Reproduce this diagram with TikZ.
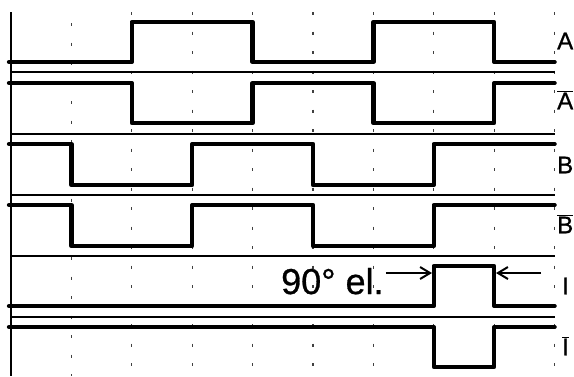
\documentclass[tikz,border=0pt]{standalone}
\usepackage{fontspec}
\setmainfont{Liberation Sans}
\newfontfamily\heavyfont[FakeBold=0.8]{Liberation Sans}
\usetikzlibrary{arrows.meta}
\begin{document}
\begin{tikzpicture}[x=1pt,y=-1pt,
  sig/.style={line width=4.3pt,line cap=round,line join=round},
  sepline/.style={line width=1.6pt},
  gridline/.style={line width=1.2pt,black!75,dash pattern=on 3pt off 16.5pt},
  lbl/.style={font=\heavyfont\fontsize{24}{24}\selectfont,inner sep=0pt,anchor=west},
  dimarrow/.style={line width=2pt,-{Straight Barb[length=10pt,width=12pt,line width=2pt]}}]
\useasboundingbox (0,0) rectangle (574,376);
% grid
\draw[gridline] (71.4,23) -- (71.4,376);
\foreach \x in {131.8,192.2,252.6,313.0,373.4,433.8,494.2,554.6}
  \draw[gridline] (\x,12) -- (\x,376);
% axis
\draw[line width=2pt] (11,12) -- (11,376);
% separators
\foreach \y in {72,134,195,256,317}
  \draw[sepline] (11,\y) -- (554.6,\y);
% signals
\draw[sig] (9,62) -| (131.8,22) -| (252.6,62) -| (373.4,22) -| (494.2,62) -- (554.6,62);
\draw[sig] (9,83) -| (131.8,123) -| (252.6,83) -| (373.4,123) -| (494.2,83) -- (554.6,83);
\draw[sig] (9,144) -| (71.4,185) -| (192.2,144) -| (313,185) -| (433.8,144) -- (554.6,144);
\draw[sig] (9,205) -| (71.4,246) -| (192.2,205) -| (313,246) -| (433.8,205) -- (554.6,205);
\draw[sig] (9,306) -| (433.8,266) -| (494.2,306) -- (554.6,306);
\draw[sig] (9,327) -| (433.8,367) -| (494.2,327) -- (554.6,327);
% labels
\node[lbl] (la) at (557,41) {A};
\node[lbl] (lan) at (557,100) {$\overline{\mbox{A}}$};
\node[lbl] (lb) at (557,165) {B};
\node[lbl] (lbn) at (557,224) {$\overline{\mbox{B}}$};
\node[lbl] (li) at (562,286) {I};
\node[lbl] (lin) at (562,346) {$\overline{\mbox{I}}$};
% 90 deg el.
\node[font=\heavyfont\fontsize{36}{36}\selectfont,inner sep=0pt,anchor=base west] (deg) at (281,294) {90° el.};
\coordinate (p1) at (432,273);
\coordinate (q0) at (541,273);
\coordinate (q1) at (496,273);
\draw[dimarrow] ([xshift=2pt]deg.east |- p1) -- (p1);
\draw[dimarrow] (q0) -- (q1);
\end{tikzpicture}
\end{document}
